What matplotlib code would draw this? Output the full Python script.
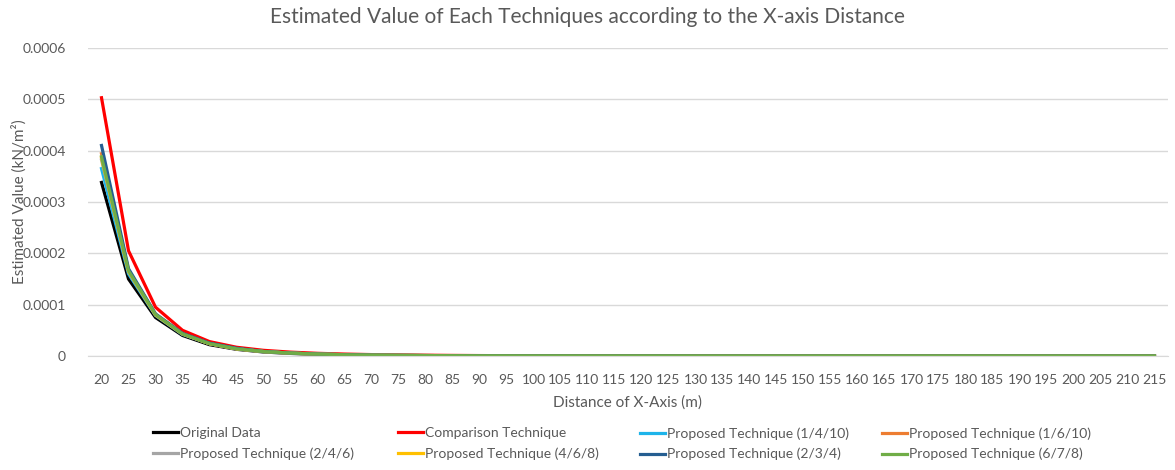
import matplotlib.pyplot as plt

plt.rcParams['font.family'] = ['Lato', 'DejaVu Sans']

# categories on the x-axis (m)
distance = list(range(20, 220, 5))

# estimated values (kN/m^2)
original = [0.000338, 0.000150, 0.000075, 0.000040, 0.000022, 0.000013, 0.0000078, 0.0000050,
            0.0000033, 0.0000022, 0.0000015, 0.0000010, 0.0000007, 0.0000005, 0.0000004, 0.0000003,
            0.0000002, 0.0000002, 0.0000001, 0.0000001, 0.0000001, 0.0000001, 0.0, 0.0,
            0.0, 0.0, 0.0, 0.0, 0.0, 0.0, 0.0, 0.0, 0.0, 0.0, 0.0, 0.0, 0.0, 0.0, 0.0, 0.0]
comparison = [0.000503, 0.000205, 0.000095, 0.000050, 0.000028, 0.000017, 0.000011, 0.0000075,
              0.0000052, 0.0000037, 0.0000027, 0.0000020, 0.0000015, 0.0000011, 0.0000008, 0.0000006,
              0.0000005, 0.0000004, 0.0000003, 0.0000002, 0.0000002, 0.0000001, 0.0000001, 0.0000001,
              0.0, 0.0, 0.0, 0.0, 0.0, 0.0, 0.0, 0.0, 0.0, 0.0, 0.0, 0.0, 0.0, 0.0, 0.0, 0.0]
p_1_4_10 = [0.000365, 0.000160, 0.000079, 0.000042, 0.000024, 0.000014, 0.0000085, 0.0000055,
            0.0000036, 0.0000024, 0.0000016, 0.0000011, 0.0000008, 0.0000006, 0.0000004, 0.0000003,
            0.0000002, 0.0000002, 0.0000001, 0.0000001, 0.0000001, 0.0000001, 0.0, 0.0,
            0.0, 0.0, 0.0, 0.0, 0.0, 0.0, 0.0, 0.0, 0.0, 0.0, 0.0, 0.0, 0.0, 0.0, 0.0, 0.0]
p_1_6_10 = [0.000394, 0.000167, 0.000081, 0.000043, 0.000024, 0.000014, 0.0000087, 0.0000056,
            0.0000037, 0.0000025, 0.0000017, 0.0000012, 0.0000008, 0.0000006, 0.0000004, 0.0000003,
            0.0000002, 0.0000002, 0.0000001, 0.0000001, 0.0000001, 0.0000001, 0.0, 0.0,
            0.0, 0.0, 0.0, 0.0, 0.0, 0.0, 0.0, 0.0, 0.0, 0.0, 0.0, 0.0, 0.0, 0.0, 0.0, 0.0]
p_2_4_6 = [0.000382, 0.000164, 0.000080, 0.000043, 0.000024, 0.000014, 0.0000086, 0.0000055,
           0.0000036, 0.0000024, 0.0000016, 0.0000011, 0.0000008, 0.0000006, 0.0000004, 0.0000003,
           0.0000002, 0.0000002, 0.0000001, 0.0000001, 0.0000001, 0.0000001, 0.0, 0.0,
           0.0, 0.0, 0.0, 0.0, 0.0, 0.0, 0.0, 0.0, 0.0, 0.0, 0.0, 0.0, 0.0, 0.0, 0.0, 0.0]
p_4_6_8 = [0.000386, 0.000165, 0.000080, 0.000043, 0.000024, 0.000014, 0.0000086, 0.0000055,
           0.0000036, 0.0000024, 0.0000016, 0.0000011, 0.0000008, 0.0000006, 0.0000004, 0.0000003,
           0.0000002, 0.0000002, 0.0000001, 0.0000001, 0.0000001, 0.0000001, 0.0, 0.0,
           0.0, 0.0, 0.0, 0.0, 0.0, 0.0, 0.0, 0.0, 0.0, 0.0, 0.0, 0.0, 0.0, 0.0, 0.0, 0.0]
p_2_3_4 = [0.000410, 0.000170, 0.000082, 0.000044, 0.000025, 0.000015, 0.0000088, 0.0000057,
           0.0000037, 0.0000025, 0.0000017, 0.0000012, 0.0000008, 0.0000006, 0.0000004, 0.0000003,
           0.0000002, 0.0000002, 0.0000001, 0.0000001, 0.0000001, 0.0000001, 0.0, 0.0,
           0.0, 0.0, 0.0, 0.0, 0.0, 0.0, 0.0, 0.0, 0.0, 0.0, 0.0, 0.0, 0.0, 0.0, 0.0, 0.0]
p_6_7_8 = [0.000388, 0.000166, 0.000081, 0.000043, 0.000024, 0.000014, 0.0000086, 0.0000056,
           0.0000036, 0.0000024, 0.0000016, 0.0000011, 0.0000008, 0.0000006, 0.0000004, 0.0000003,
           0.0000002, 0.0000002, 0.0000001, 0.0000001, 0.0000001, 0.0000001, 0.0, 0.0,
           0.0, 0.0, 0.0, 0.0, 0.0, 0.0, 0.0, 0.0, 0.0, 0.0, 0.0, 0.0, 0.0, 0.0, 0.0, 0.0]

series = [
    ('Original Data', original, '#000000'),
    ('Comparison Technique', comparison, '#ff0000'),
    ('Proposed Technique (1/4/10)', p_1_4_10, '#1eb4ea'),
    ('Proposed Technique (1/6/10)', p_1_6_10, '#ed7d31'),
    ('Proposed Technique (2/4/6)', p_2_4_6, '#a5a5a5'),
    ('Proposed Technique (4/6/8)', p_4_6_8, '#ffc000'),
    ('Proposed Technique (2/3/4)', p_2_3_4, '#255e91'),
    ('Proposed Technique (6/7/8)', p_6_7_8, '#70ad47'),
]

txt = '#595959'

fig = plt.figure(figsize=(11.75, 4.7), dpi=100)
ax = fig.add_axes([0.0749, 0.2426, 0.9191, 0.6554])

pos = list(range(len(distance)))
lines = []
for name, vals, col in series:
    ln, = ax.plot(pos, vals, color=col, lw=2.3, label=name, solid_joinstyle='round')
    lines.append(ln)

ax.set_xlim(-0.5, len(distance) - 0.5)
ax.set_ylim(0, 0.0006)
ax.set_yticks([0, 0.0001, 0.0002, 0.0003, 0.0004, 0.0005, 0.0006])
ax.set_yticklabels(['0', '0.0001', '0.0002', '0.0003', '0.0004', '0.0005', '0.0006'])
ax.set_xticks(pos)
ax.set_xticklabels([str(d) for d in distance])
ax.tick_params(axis='both', length=0, labelsize=10, colors=txt)
ax.tick_params(axis='x', pad=13)
ax.tick_params(axis='y', pad=16)
ax.grid(axis='y', color='#d9d9d9', lw=1)
ax.set_axisbelow(True)
for s in ['top', 'right', 'left']:
    ax.spines[s].set_visible(False)
ax.spines['bottom'].set_color('#d9d9d9')

ax.set_xlabel('Distance of X-Axis (m)', fontsize=11, color=txt, labelpad=7)
ax.set_ylabel('Estimated Value (kN/m²)', fontsize=11, color=txt)
ax.yaxis.set_label_coords(-0.057, 0.5)
fig.suptitle('Estimated Value of Each Techniques according to the X-axis Distance',
             fontsize=15, color=txt, y=0.985)

# legend: 4 columns of 2 rows, read row-wise like the original
col_x = [153, 398, 640, 882]
for i, x in enumerate(col_x):
    leg = fig.legend([lines[i], lines[i + 4]], [series[i][0], series[i + 4][0]],
                     loc='upper left', bbox_to_anchor=(x / 1175, 1 - 427 / 470),
                     frameon=False, fontsize=10, handlelength=1.8, handletextpad=0.15,
                     labelcolor=txt, borderaxespad=0, borderpad=0, labelspacing=0.6)

fig.savefig('out.png', dpi=100)
